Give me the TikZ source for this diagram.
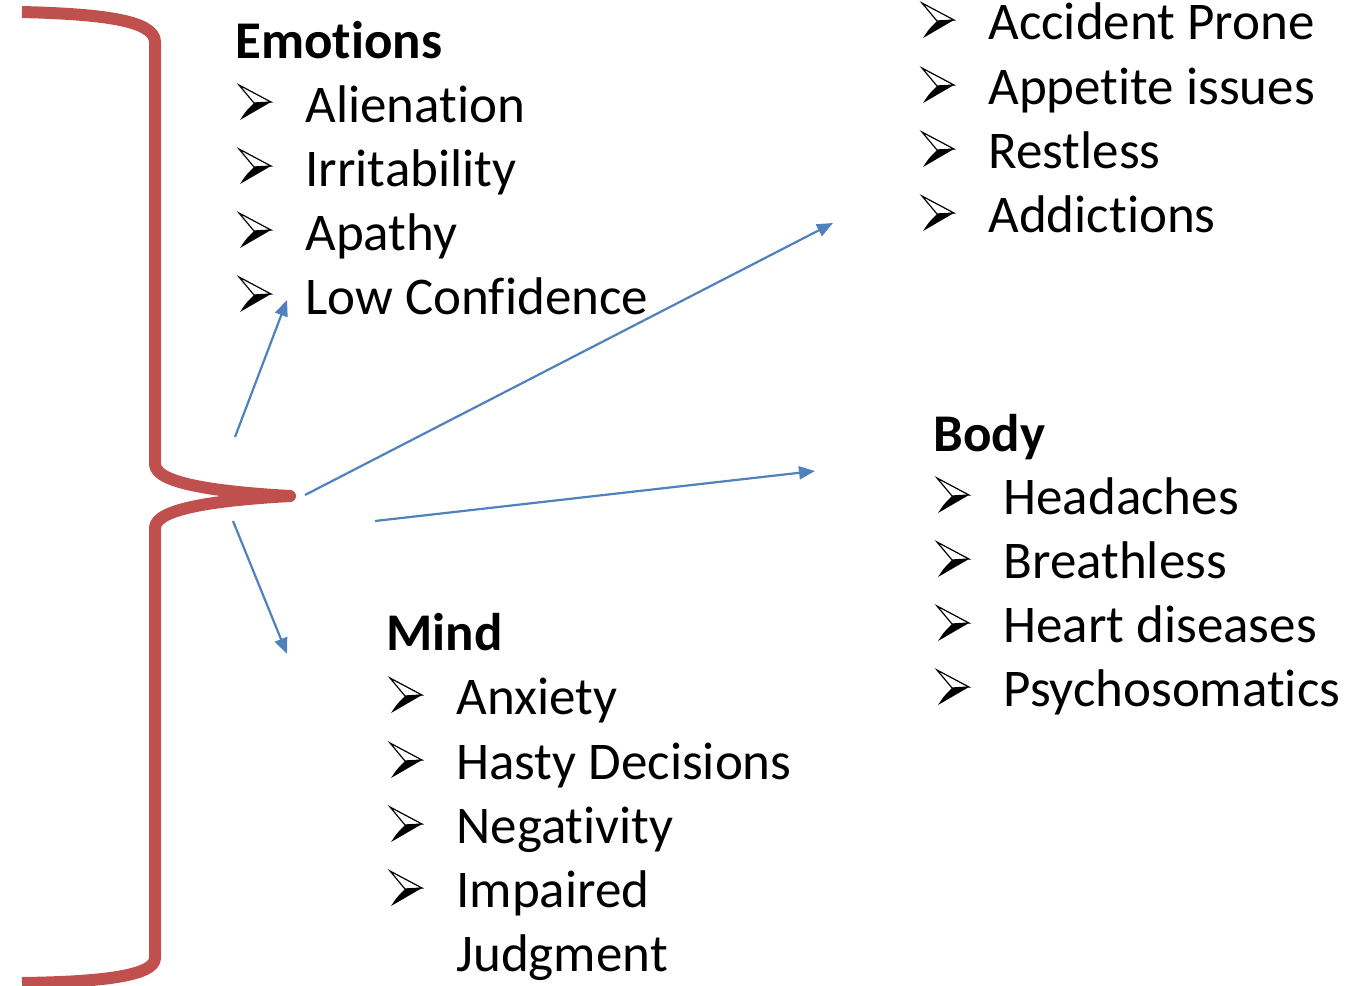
\documentclass[tikz,border=0pt]{standalone}
\usepackage{fontspec}
\setmainfont{Carlito}[RawFeature={-liga,-clig,-calt,-dlig}]
\usetikzlibrary{arrows.meta}

\definecolor{bracered}{HTML}{C0504D}
\definecolor{arrowblue}{HTML}{4F81BD}

\tikzset{
	itemtext/.style={anchor=base west,inner sep=0pt,font=\fontsize{26.5}{31}\selectfont},
	headtext/.style={itemtext,font=\fontsize{26.5}{31}\selectfont\bfseries},
	pointer/.style={arrowblue,line width=1.1pt,-{Triangle[length=8pt,width=6.5pt]}},
	arrowbullet/.pic={
		\filldraw[fill=white,draw=black,line width=0.6pt] (0,-17)--(32,0)--(15,1)--cycle;
		\fill[black] (15,1)--(32,0)--(1,18) .. controls (7,9) .. (15,1)--cycle;
	}
}

\begin{document}
\begin{tikzpicture}[x=0.5pt,y=-0.5pt]
	\useasboundingbox (0,0) rectangle (1356,986);

	%BRACE
	\draw[bracered,line width=6pt,line join=round]
	(22,12) .. controls (100,14) and (155,20) .. (155,42) -- (155,464)
	.. controls (155,484) and (220,492) .. (290,496)
	.. controls (220,500) and (155,508) .. (155,528) -- (155,958)
	.. controls (155,976) and (100,982) .. (22,983);

	%EMOTIONS
	\node[headtext] (emotions) at (235,58) {Emotions};
	\pic at (239,102) {arrowbullet};
	\node[itemtext] (alienation) at (305,122) {Alienation};
	\pic at (239,166) {arrowbullet};
	\node[itemtext] (irritability) at (305,186) {Irritability};
	\pic at (239,230) {arrowbullet};
	\node[itemtext] (apathy) at (305,250) {Apathy};
	\pic at (239,294) {arrowbullet};
	\node[itemtext] (confidence) at (305,314) {Low Confidence};

	%BEHAVIOUR (no heading)
	\pic at (922,20) {arrowbullet};
	\node[itemtext] (accident) at (988,39) {Accident Prone};
	\pic at (922,85) {arrowbullet};
	\node[itemtext] (appetite) at (988,104) {Appetite issues};
	\pic at (922,149) {arrowbullet};
	\node[itemtext] (restless) at (988,168) {Restless};
	\pic at (922,213) {arrowbullet};
	\node[itemtext] (addictions) at (988,232) {Addictions};

	%BODY
	\node[headtext] (body) at (933,451) {Body};
	\pic at (937,495) {arrowbullet};
	\node[itemtext] (headaches) at (1003,514) {Headaches};
	\pic at (937,559) {arrowbullet};
	\node[itemtext] (breathless) at (1003,578) {Breathless};
	\pic at (937,623) {arrowbullet};
	\node[itemtext] (heart) at (1003,642) {Heart diseases};
	\pic at (937,687) {arrowbullet};
	\node[itemtext] (psycho) at (1003,706) {Psychosomatics};

	%MIND
	\node[headtext] (mind) at (386,650) {Mind};
	\pic at (390,695) {arrowbullet};
	\node[itemtext] (anxiety) at (456,714) {Anxiety};
	\pic at (390,760) {arrowbullet};
	\node[itemtext] (hasty) at (456,779) {Hasty Decisions};
	\pic at (390,824) {arrowbullet};
	\node[itemtext] (negativity) at (456,843) {Negativity};
	\pic at (390,888) {arrowbullet};
	\node[itemtext] (impaired) at (456,907) {Impaired};
	\node[itemtext] (judgment) at (456,971) {Judgment};

	%ARROWS
	\coordinate (emoFrom) at (235,437);
	\coordinate (emoTo) at (287,300);
	\coordinate (behFrom) at (305,495);
	\coordinate (behTo) at (833,223);
	\coordinate (bodyFrom) at (375,521);
	\coordinate (bodyTo) at (815,471);
	\coordinate (mindFrom) at (233,521);
	\coordinate (mindTo) at (287,654);
	\draw[pointer] (emoFrom)--(emoTo);
	\draw[pointer] (behFrom)--(behTo);
	\draw[pointer] (bodyFrom)--(bodyTo);
	\draw[pointer] (mindFrom)--(mindTo);
\end{tikzpicture}
\end{document}
